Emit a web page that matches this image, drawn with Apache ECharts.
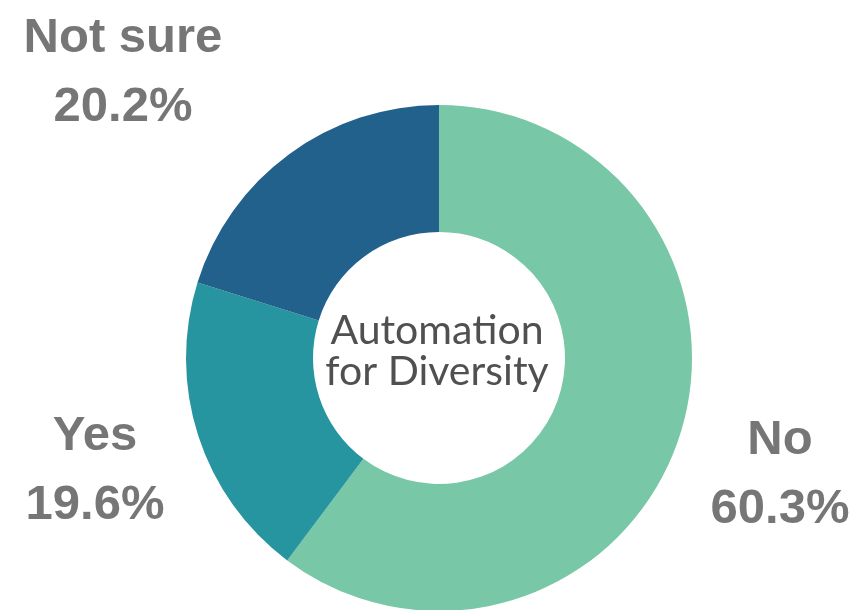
<!DOCTYPE html>
<html><head><meta charset="utf-8">
<script src="https://cdn.jsdelivr.net/npm/echarts@6/dist/echarts.min.js"></script>
<style>html,body{margin:0;padding:0;background:#fff}#c{width:857px;height:610px}</style>
</head><body><div id="c"></div>
<script>
const categories = ['No', 'Yes', 'Not sure'];
const values = [60.3, 19.6, 20.2];
const colors = ['#78C7A7', '#2795A0', '#22618B'];
const centerTitle = 'Automation\nfor Diversity';
const labelPos = {'No': [780, 475], 'Yes': [95, 471], 'Not sure': [123, 73]};

const chart = echarts.init(document.getElementById('c'), null, {renderer: 'canvas'});
chart.setOption({
  animation: false,
  graphic: [{
    type: 'text', x: 437, y: 351,
    style: {text: centerTitle, fill: '#505050', font: '41px Lato', align: 'center', verticalAlign: 'middle', lineHeight: 41}
  }],
  series: [{
    type: 'pie',
    center: [439, 358],
    radius: [126, 253],
    startAngle: 90,
    clockwise: true,
    data: categories.map((c, i) => ({name: c, value: values[i], itemStyle: {color: colors[i]}})),
    label: {
      show: true,
      formatter: p => p.name + '\n' + p.value.toFixed(1) + '%',
      fontFamily: 'Liberation Sans, Arial',
      fontWeight: 'bold',
      fontSize: 49,
      lineHeight: 69,
      color: '#767676',
      align: 'center',
      overflow: 'none',
      edgeDistance: 0
    },
    labelLine: {show: false},
    labelLayout: function (p) {
      const name = categories[p.dataIndex];
      const pos = labelPos[name];
      return {x: pos[0], y: pos[1], align: 'center', verticalAlign: 'middle'};
    },
    emphasis: {disabled: true}
  }]
});
</script></body></html>
